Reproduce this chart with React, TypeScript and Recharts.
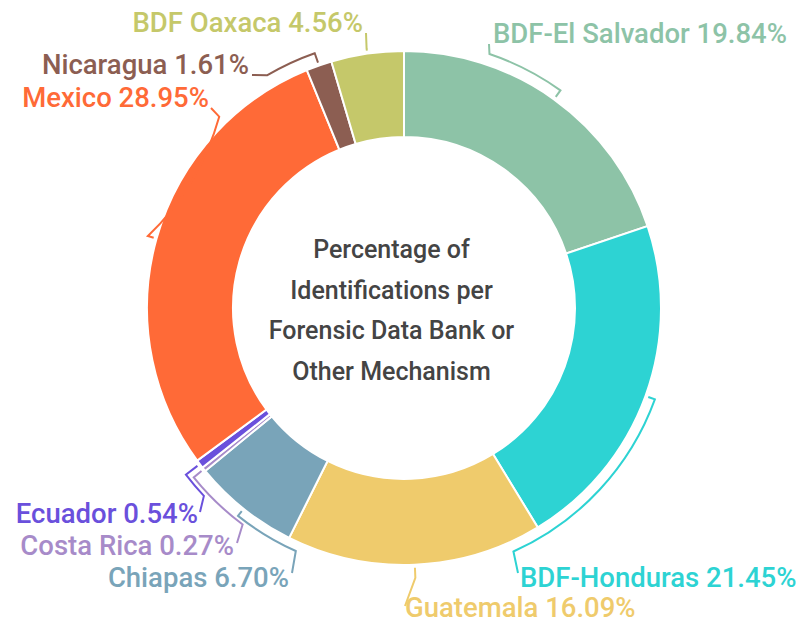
import { PieChart, Pie, Cell } from "recharts";

const banks = [
  "BDF-El Salvador",
  "BDF-Honduras",
  "Guatemala",
  "Chiapas",
  "Costa Rica",
  "Ecuador",
  "Mexico",
  "Nicaragua",
  "BDF Oaxaca",
];
const shares = [19.84, 21.45, 16.09, 6.7, 0.27, 0.54, 28.95, 1.61, 4.56];
const colors = ["#8dc3a7", "#2dd3d3", "#efcb6c", "#79a4b9", "#a78bc9", "#6a50dc", "#ff6a37", "#8c5e52", "#c5c86a"];

const data = banks.map((name, i) => ({ name, value: shares[i] }));

// placement of the bracket leaders and label text (chart px / degrees)
const labelLayout: Record<string, { rb: number; ae: number | null; end: [number, number]; tx: number; ty: number; anchor: string }> = {
  "BDF-El Salvador": { rb: 268, ae: 71.4, end: [489, 44], tx: 493, ty: 43, anchor: "start" },
  "BDF-Honduras": { rb: 267, ae: -65.8, end: [518, 573], tx: 520, ty: 587, anchor: "start" },
  Guatemala: { rb: 270, ae: null, end: [405, 606], tx: 405, ty: 617, anchor: "start" },
  Chiapas: { rb: 266, ae: -114, end: [292, 573], tx: 289, ty: 587, anchor: "end" },
  "Costa Rica": { rb: 270, ae: -126.7, end: [237, 543], tx: 234, ty: 555, anchor: "end" },
  Ecuador: { rb: 274.5, ae: -136.8, end: [200, 512], tx: 198, ty: 523, anchor: "end" },
  Mexico: { rb: 266, ae: 134, end: [211, 108], tx: 209, ty: 107, anchor: "end" },
  Nicaragua: { rb: 270, ae: 120.5, end: [252, 75], tx: 249, ty: 74, anchor: "end" },
  "BDF Oaxaca": { rb: 262, ae: null, end: [366, 33], tx: 363, ty: 32, anchor: "end" },
};

const RAD = Math.PI / 180;

const BracketLabel = (props: any) => {
  const { cx, cy, midAngle, outerRadius, index, name, value } = props;
  const lay = labelLayout[name];
  if (!lay) return null;
  const color = colors[index];
  const pt = (r: number, a: number) => [cx + r * Math.cos(-a * RAD), cy + r * Math.sin(-a * RAD)];
  const p0 = pt(outerRadius + 3, midAngle);
  const p1 = pt(lay.rb, midAngle);
  let d = `M${p0[0]},${p0[1]} L${p1[0]},${p1[1]}`;
  if (lay.ae !== null) {
    const p2 = pt(lay.rb, lay.ae);
    const sweep = lay.ae > midAngle ? 0 : 1;
    d += ` A${lay.rb},${lay.rb} 0 0 ${sweep} ${p2[0]},${p2[1]}`;
  }
  d += ` L${lay.end[0]},${lay.end[1]}`;
  return (
    <g>
      <path d={d} fill="none" stroke={color} strokeWidth={2} />
      <text x={lay.tx} y={lay.ty} textAnchor={lay.anchor} fill={color} fontSize={27.5} fontWeight={500} fontFamily="Roboto, sans-serif">
        {`${name} ${Number(value).toFixed(2)}%`}
      </text>
    </g>
  );
};

const centerLines = ["Percentage of", "Identifications per", "Forensic Data Bank or", "Other Mechanism"];

export default function App() {
  return (
    <div style={{ position: "absolute", left: 0, top: 0, width: 804, height: 623, background: "#fff" }}>
      <PieChart width={804} height={623} margin={{ top: 0, right: 0, bottom: 0, left: 0 }}>
        <Pie
          data={data}
          dataKey="value"
          nameKey="name"
          cx={404}
          cy={308}
          innerRadius={171}
          outerRadius={257}
          startAngle={90}
          endAngle={-270}
          stroke="#fff"
          strokeWidth={2}
          label={BracketLabel}
          labelLine={false}
          isAnimationActive={false}
        >
          {data.map((d, i) => (
            <Cell key={d.name} fill={colors[i]} />
          ))}
        </Pie>
      </PieChart>
      <div
        style={{
          position: "absolute",
          left: 241.5,
          top: 230,
          width: 300,
          textAlign: "center",
          fontFamily: "Roboto, sans-serif",
          fontWeight: 500,
          fontSize: 25,
          lineHeight: "40.7px",
          color: "#444",
        }}
      >
        {centerLines.map((l) => (
          <div key={l}>{l}</div>
        ))}
      </div>
    </div>
  );
}
